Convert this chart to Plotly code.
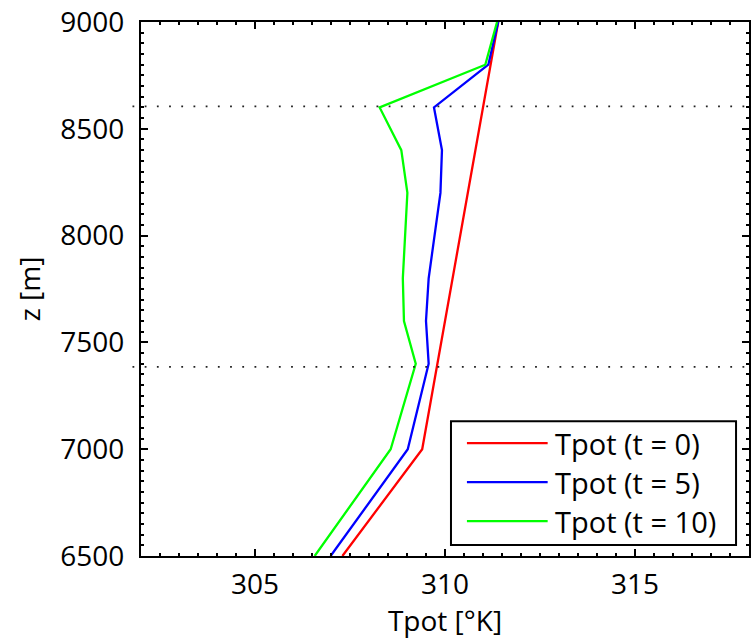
import plotly.graph_objects as go

# ---- data ----
z_red = [9000, 7000, 6500]
tpot_red = [311.40, 309.40, 307.30]

z_blue = [9000, 8800, 8600, 8400, 8200, 7800, 7600, 7400, 7000, 6500]
tpot_blue = [311.40, 311.14, 309.71, 309.92, 309.88, 309.57, 309.50, 309.57, 309.02, 306.99]

z_green = [9000, 8800, 8600, 8400, 8200, 7800, 7600, 7400, 7000, 6500]
tpot_green = [311.37, 311.06, 308.28, 308.85, 309.01, 308.89, 308.92, 309.23, 308.57, 306.57]

series_names = ["Tpot (t = 0)", "Tpot (t = 5)", "Tpot (t = 10)"]
series_colors = ["#ff0000", "#0000ff", "#00ff00"]

level_lines = [8605, 7385]
x_ticks = [305, 310, 315]
y_ticks = [6500, 7000, 7500, 8000, 8500, 9000]
x_range = [302, 318]
y_range = [6500, 9000]

FONT = "Open Sans"
FS = 28
W, H = 753, 639
ML, MR, MT, MB = 141, 2, 21, 83

fig = go.Figure()
series = [(tpot_red, z_red), (tpot_blue, z_blue), (tpot_green, z_green)]
for (xs, zs), name, col in zip(series, series_names, series_colors):
    fig.add_trace(go.Scatter(x=xs, y=zs, mode="lines", name=name,
                             line=dict(color=col, width=2.3), showlegend=False))

# dotted horizontal reference lines
for lv in level_lines:
    fig.add_shape(type="line", xref="paper", yref="y", x0=-0.014, x1=1.0, y0=lv, y1=lv,
                  line=dict(color="#222222", width=1.8, dash="1.8px,10.4px"), layer="above")

# custom legend (pixel -> paper helpers)
pw = W - ML - MR
ph = H - MT - MB
def px_x(p):
    return (p - ML) / pw
def px_y(p):
    return (H - MB - p) / ph

fig.add_shape(type="rect", xref="paper", yref="paper",
              x0=px_x(452), x1=px_x(738), y0=px_y(545), y1=px_y(421),
              line=dict(color="black", width=2), fillcolor="white", layer="above")
rows = [443, 482, 521]
for r, name, col in zip(rows, series_names, series_colors):
    fig.add_shape(type="line", xref="paper", yref="paper",
                  x0=px_x(468), x1=px_x(549), y0=px_y(r), y1=px_y(r),
                  line=dict(color=col, width=2.3), layer="above")
    fig.add_annotation(xref="paper", yref="paper", x=px_x(554), y=px_y(r),
                       text=name, showarrow=False, xanchor="left", yanchor="middle",
                       font=dict(family=FONT, size=FS + 1, color="black"))

axis_common = dict(
    showline=True, linecolor="black", linewidth=2, mirror="allticks",
    ticks="inside", ticklen=7, tickwidth=1.5, tickcolor="black",
    showgrid=False, zeroline=False,
    tickfont=dict(family=FONT, size=FS, color="black"),
)
fig.update_xaxes(range=x_range, tickvals=x_ticks,
                 minor=dict(dtick=0.5, ticks="inside", ticklen=3, tickwidth=1.5, tickcolor="black"),
                 title=dict(text="Tpot [°K]", font=dict(family=FONT, size=FS, color="black"), standoff=4),
                 ticklabelstandoff=2,
                 **axis_common)
fig.update_yaxes(range=y_range, tickvals=y_ticks,
                 minor=dict(dtick=50, ticks="inside", ticklen=3, tickwidth=1.5, tickcolor="black"),
                 title=dict(text="z [m]", font=dict(family=FONT, size=FS, color="black"), standoff=12),
                 ticklabelstandoff=9,
                 **axis_common)

fig.update_layout(width=W, height=H, autosize=False,
                  margin=dict(l=ML, r=MR, t=MT, b=MB),
                  plot_bgcolor="white", paper_bgcolor="white",
                  font=dict(family=FONT, size=FS, color="black"))

fig.write_html("out.html")
